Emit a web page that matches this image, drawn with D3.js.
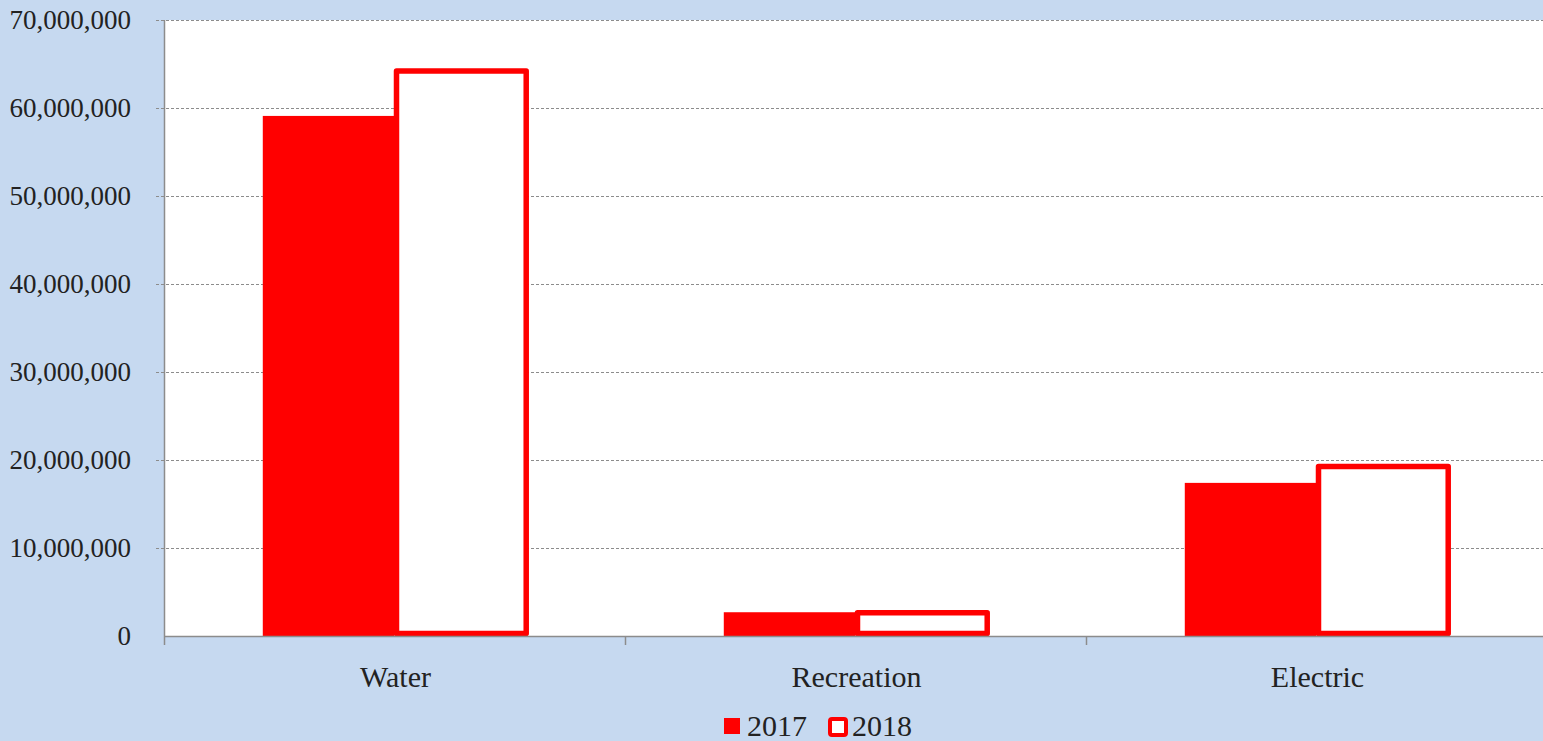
<!DOCTYPE html>
<html lang="en">
<head>
  <meta charset="utf-8">
  <title>Revenue by fund</title>
  <script src="https://cdn.jsdelivr.net/npm/d3@7"></script>
  <style>
    html, body { margin: 0; padding: 0; background: #c6d9f0; }
    svg { display: block; }
  </style>
</head>
<body>
<div class="chart"></div>
<script>
  var categories = ["Water", "Recreation", "Electric"];
  var years = ["2017", "2018"];
  var values2017 = [59100000, 2700000, 17400000];
  var values2018 = [64200000, 2650000, 19250000];
  var yTicks = [0, 10000000, 20000000, 30000000, 40000000, 50000000, 60000000, 70000000];

  var W = 1543, H = 741;
  var m = {top: 20, left: 164, bottom: 105, right: -4};
  var red = "#ff0000";
  var serif = "'Liberation Serif', 'Times New Roman', 'DejaVu Serif', serif";

  var svg = d3.select(".chart").append("svg")
    .attr("width", W)
    .attr("height", H)
    .attr("font-family", serif)
    .style("font-family", serif);

  var x = d3.scaleBand()
    .domain(categories)
    .range([m.left, W - m.right])
    .paddingInner(0)
    .paddingOuter(0);

  var y = d3.scaleLinear()
    .domain([0, 70000000])
    .range([H - m.bottom, m.top]);

  var sub = d3.scaleBand()
    .domain(years)
    .range([0, x.bandwidth()])
    .paddingOuter(0.75)
    .paddingInner(0);

  // plot area
  svg.append("rect")
    .attr("x", m.left)
    .attr("y", m.top)
    .attr("width", W - m.left)
    .attr("height", y(0) - m.top)
    .style("fill", "#fff");

  // grid
  svg.append("g").selectAll("line")
    .data(yTicks.slice(1))
    .enter().append("line")
    .attr("x1", m.left - 8)
    .attr("x2", W)
    .attr("y1", function(d){ return y(d) + 0.5; })
    .attr("y2", function(d){ return y(d) + 0.5; })
    .style("stroke", "#8c8c8c")
    .style("stroke-width", 1)
    .style("stroke-dasharray", "3,2");

  // y labels
  svg.append("g").selectAll("text")
    .data(yTicks)
    .enter().append("text")
    .attr("x", 131)
    .attr("y", function(d){ return y(d); })
    .attr("dy", "0.34em")
    .attr("text-anchor", "end")
    .style("font-size", "27px")
    .style("fill", "#222")
    .text(d3.format(","));

  var groups = svg.append("g").selectAll("g")
    .data(categories)
    .enter().append("g")
    .attr("transform", function(d){ return "translate(" + x(d) + ",0)"; });

  // 2017 solid
  groups.append("rect")
    .attr("x", sub("2017"))
    .attr("y", function(d, i){ return y(values2017[i]); })
    .attr("width", sub.bandwidth())
    .attr("height", function(d, i){ return y(0) - y(values2017[i]); })
    .style("fill", red);

  // 2018 outline
  groups.append("rect")
    .attr("x", sub("2018") + 2)
    .attr("y", function(d, i){ return y(values2018[i]); })
    .attr("width", sub.bandwidth() - 2)
    .attr("height", function(d, i){ return y(0) - y(values2018[i]) - 2.5; })
    .style("fill", "#fff")
    .style("stroke", red)
    .style("stroke-width", 5.5)
    .style("stroke-linejoin", "round");

  // axes lines
  svg.append("line")
    .attr("x1", m.left + 0.5).attr("x2", m.left + 0.5)
    .attr("y1", m.top).attr("y2", y(0) + 9)
    .style("stroke", "#8c8c8c").style("stroke-width", 1.5);

  svg.append("line")
    .attr("x1", m.left).attr("x2", W)
    .attr("y1", y(0) + 0.5).attr("y2", y(0) + 0.5)
    .style("stroke", "#8c8c8c").style("stroke-width", 1.5);

  svg.append("g").selectAll("line")
    .data(categories.slice(1))
    .enter().append("line")
    .attr("x1", function(d){ return x(d) + 0.5; })
    .attr("x2", function(d){ return x(d) + 0.5; })
    .attr("y1", y(0))
    .attr("y2", y(0) + 9)
    .style("stroke", "#8c8c8c").style("stroke-width", 1.5);

  // x labels
  svg.append("g").selectAll("text")
    .data(categories)
    .enter().append("text")
    .attr("x", function(d){ return x(d) + x.bandwidth() / 2 + 1; })
    .attr("y", 687)
    .attr("text-anchor", "middle")
    .style("font-size", "30px")
    .style("fill", "#222")
    .text(function(d){ return d; });

  // legend
  var leg = svg.append("g");
  leg.append("rect")
    .attr("x", 724).attr("y", 718)
    .attr("width", 16).attr("height", 16)
    .style("fill", red);
  leg.append("text")
    .attr("x", 747).attr("y", 736)
    .style("font-size", "30px")
    .style("fill", "#222")
    .text(years[0]);
  leg.append("rect")
    .attr("x", 830).attr("y", 719)
    .attr("width", 16).attr("height", 16)
    .attr("rx", 2)
    .style("fill", "#fff")
    .style("stroke", red)
    .style("stroke-width", 4);
  leg.append("text")
    .attr("x", 852).attr("y", 736)
    .style("font-size", "30px")
    .style("fill", "#222")
    .text(years[1]);
</script>
</body>
</html>
